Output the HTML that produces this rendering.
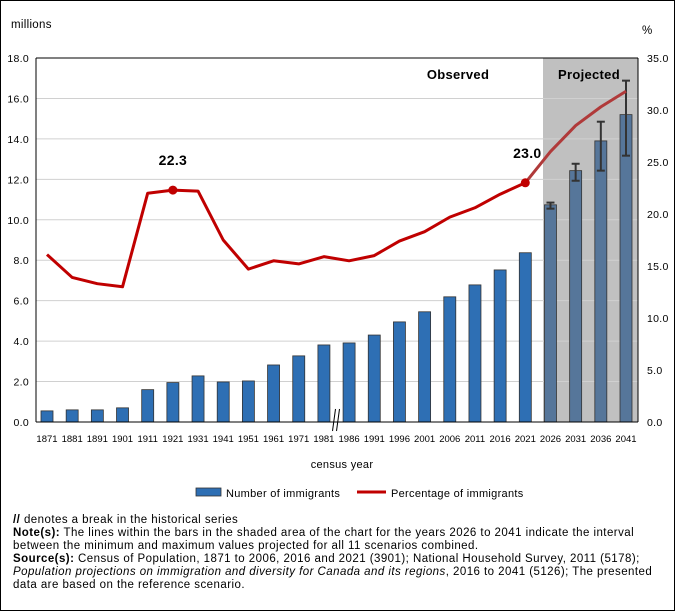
<!DOCTYPE html>
<html><head><meta charset="utf-8"><style>
body{margin:0;background:#fff;font-family:"Liberation Sans",Arial,sans-serif}
#wrap{position:relative;width:673px;height:609px;border:1px solid #000;overflow:hidden}
.notes{position:absolute;left:12px;top:513px;width:652px;font-size:11.5px;line-height:13px;color:#000;letter-spacing:0.45px}
</style></head><body>
<div id="wrap">
<svg id="chart" width="673" height="510" style="position:absolute;left:0;top:0"></svg>
<div class="notes">
<div><b>//</b> denotes a break in the historical series</div>
<div><b>Note(s):</b> The lines within the bars in the shaded area of the chart for the years 2026 to 2041 indicate the interval between the minimum and maximum values projected for all 11 scenarios combined.</div>
<div><b>Source(s):</b> Census of Population, 1871 to 2006, 2016 and 2021 (3901); National Household Survey, 2011 (5178); <i>Population projections on immigration and diversity for Canada and its regions</i>, 2016 to 2041 (5126); The presented data are based on the reference scenario.</div>
</div>
</div>
<script>
const years=["1871","1881","1891","1901","1911","1921","1931","1941","1951","1961","1971","1981","1986","1991","1996","2001","2006","2011","2016","2021","2026","2031","2036","2041"];
const immigrants=[0.55,0.6,0.6,0.7,1.6,1.95,2.28,1.98,2.03,2.82,3.27,3.81,3.91,4.3,4.95,5.45,6.19,6.78,7.52,8.37,10.74,12.43,13.9,15.2];
const percentage=[16.1,13.9,13.3,13.0,22.0,22.3,22.2,17.5,14.7,15.5,15.2,15.9,15.5,16.0,17.4,18.3,19.7,20.6,21.9,23.0,26.0,28.5,30.3,31.8];
const errLow=[null,null,null,null,null,null,null,null,null,null,null,null,null,null,null,null,null,null,null,null,10.55,11.93,12.43,13.17];
const errHigh=[null,null,null,null,null,null,null,null,null,null,null,null,null,null,null,null,null,null,null,null,10.85,12.77,14.85,16.88];
const leftTicks=["0.0","2.0","4.0","6.0","8.0","10.0","12.0","14.0","16.0","18.0"];
const rightTicks=["0.0","5.0","10.0","15.0","20.0","25.0","30.0","35.0"];
const labeled={"1921":"22.3","2021":"23.0"};
const NS="http://www.w3.org/2000/svg",svg=document.getElementById('chart');
const X0=35,X1=637,Y0=421,Y1=57;
const yL=v=>Y0-(v/18)*(Y0-Y1), yR=v=>Y0-(v/35)*(Y0-Y1);
const xC=i=>46+i*(625-46)/(years.length-1);
function el(t,a,p){const e=document.createElementNS(NS,t);for(const k in a)e.setAttribute(k,a[k]);(p||svg).appendChild(e);return e;}
function tx(x,y,s,a){const e=el('text',Object.assign({x:x,y:y,'font-size':10.5,fill:'#000','font-family':'"Liberation Sans",Arial,sans-serif','letter-spacing':0.3},a||{}));e.textContent=s;return e;}
let sh=el('rect',{x:542,y:Y1,width:X1-542,height:Y0-Y1,fill:'#c0c0c0'});

leftTicks.forEach(t=>{const y=yL(+t);
 if(+t>0){const g=el('line',{x1:X0,x2:X1,y1:y,y2:y,stroke:'#d0d0d0'});}
 const l=tx(28,y+4,t,{'text-anchor':'end'});});
rightTicks.forEach(t=>{const l=tx(646,yR(+t)+4,t);});
years.forEach((yr,i)=>{const proj=+yr>2021;const y=yL(immigrants[i]);
 const b=el('rect',{x:xC(i)-6,y:y,width:12,height:Y0-y,fill:proj?'#56769a':'#2e6fb4',stroke:'#333','stroke-width':0.8});
 
 const l=tx(xC(i),441,yr,{'text-anchor':'middle','font-size':9.5,'letter-spacing':0});
 if(errLow[i]!=null){const g=el('g',{stroke:'#333','stroke-width':2});
  el('line',{x1:xC(i),x2:xC(i),y1:yL(errLow[i]),y2:yL(errHigh[i])},g);
  el('line',{x1:xC(i)-4,x2:xC(i)+4,y1:yL(errLow[i]),y2:yL(errLow[i])},g);
  el('line',{x1:xC(i)-4,x2:xC(i)+4,y1:yL(errHigh[i]),y2:yL(errHigh[i])},g);}
});
el('line',{x1:X0,x2:X0,y1:Y1,y2:Y0,stroke:'#000'});el('line',{x1:X1,x2:X1,y1:Y1,y2:Y0,stroke:'#000'});
el('line',{x1:X0,x2:X1,y1:Y0,y2:Y0,stroke:'#000'});el('line',{x1:X0,x2:X1,y1:Y1,y2:Y1,stroke:'#000'});
const bx=(xC(11)+xC(12))/2;
const bk=el('g',{stroke:'#000','stroke-width':1});
el('line',{x1:bx-4,y1:430,x2:bx-1,y2:408},bk);el('line',{x1:bx,y1:430,x2:bx+3,y2:408},bk);
let dObs='',dProj='';
percentage.forEach((v,i)=>{const p=xC(i)+','+yR(v);if(+years[i]<=2021)dObs+=(dObs?'L':'M')+p;if(+years[i]>=2021)dProj+=(dProj?'L':'M')+p;});
const lo=el('path',{d:dObs,fill:'none',stroke:'#c00000','stroke-width':3,'stroke-linejoin':'round'});
const lp=el('path',{d:dProj,fill:'none',stroke:'#b03a3a','stroke-width':3,'stroke-linejoin':'round'});
years.forEach((yr,i)=>{if(labeled[yr]){const c=el('circle',{cx:xC(i),cy:yR(percentage[i]),r:4.5,fill:'#c00000'});
 const l=tx(xC(i)+(yr==="2021"?2:0),yR(percentage[i])-25,labeled[yr],{'text-anchor':'middle','font-size':14,'font-weight':'bold'});}});
let t=tx(10,27,'millions',{'font-size':11.5});
t=tx(641,33,'%',{'font-size':11.5});
t=tx(457,78,'Observed',{'text-anchor':'middle','font-size':13,'font-weight':'bold'});
t=tx(588,78,'Projected',{'text-anchor':'middle','font-size':13,'font-weight':'bold'});
t=tx(341,467,'census year',{'text-anchor':'middle','font-size':11});
const lg=el('g',{});
let r=el('rect',{x:195,y:487,width:25,height:8,fill:'#2e6fb4',stroke:'#333','stroke-width':0.8},lg);
t=tx(225,496,'Number of immigrants',{'font-size':11});
r=el('line',{x1:356,x2:385,y1:491,y2:491,stroke:'#c00000','stroke-width':3},lg);
t=tx(390,496,'Percentage of immigrants',{'font-size':11});
</script>
</body></html>
